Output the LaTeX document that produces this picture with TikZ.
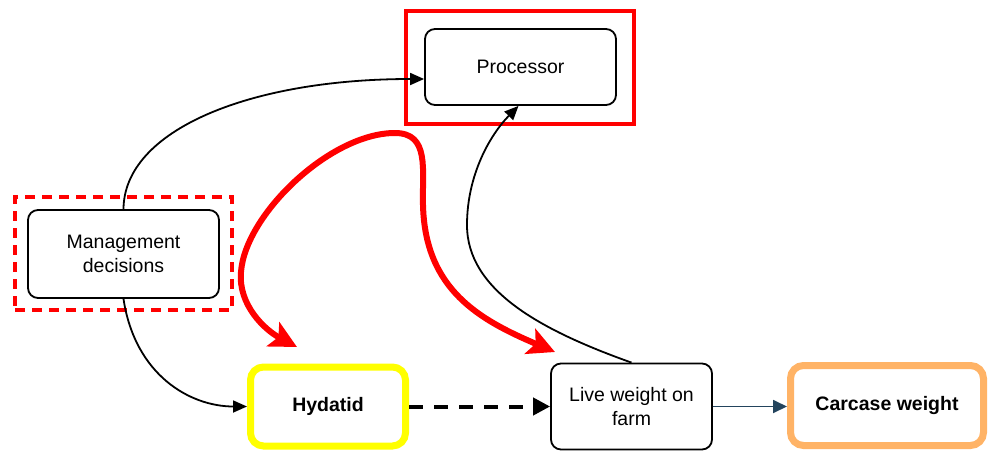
\documentclass[tikz,border=0pt]{standalone}
\usepackage{fontspec}
\setmainfont{Liberation Sans}
\usetikzlibrary{arrows.meta,calc}
\definecolor{hydy}{RGB}{255,255,0}
\definecolor{carco}{RGB}{255,179,102}
\definecolor{darkb}{RGB}{35,68,93}
\definecolor{redc}{RGB}{255,0,0}
\begin{document}
\begin{tikzpicture}[x=1pt,y=-1pt,
  box/.style={draw=black, line width=1.8pt, rounded corners=10pt, align=center,
    font=\fontsize{19.5}{24}\selectfont, inner sep=0pt},
  hl/.style={line width=7pt, rounded corners=13pt, align=center,
    font=\fontsize{19.5}{24}\selectfont\bfseries, inner sep=0pt},
  frame/.style={draw=redc, line width=3.5pt, inner sep=0pt},
  blk/.style={line width=1.8pt, -{Triangle[length=14pt,width=12pt]}},
  redarr/.style={draw=redc, line width=6pt, line cap=round,
    {Stealth[length=27pt,width=27pt,inset=6pt]}-{Stealth[length=27pt,width=27pt,inset=6pt]}}
]
\useasboundingbox (0,0) rectangle (991,453);

% frames
\node[frame, minimum width=228pt, minimum height=113pt] (pframe) at (520,67.5) {};
\node[frame, dash pattern=on 10pt off 7pt, minimum width=217pt, minimum height=113pt] (mframe) at (123.5,253.5) {};

% boxes
\node[box, minimum width=191pt, minimum height=76pt] (proc) at (520.5,67) {Processor};
\node[box, minimum width=191pt, minimum height=88pt] (mgmt) at (123.5,254) {Management\\decisions};
\node[hl, draw=hydy, minimum width=155pt, minimum height=79pt] (hyd) at (328,406.5) {Hydatid};
\node[box, minimum width=161pt, minimum height=86pt] (live) at (631.5,406.5) {Live weight on\\farm};
\node[hl, draw=carco, minimum width=193pt, minimum height=80pt] (carc) at (887,405.5) {Carcase weight};

% black connectors
\draw[blk] (mgmt.north) .. controls (124,130) and (250,79) .. ($(proc.west)+(0,12)$);
\draw[blk] (mgmt.south) .. controls (135,375) and (190,406.5) .. (hyd.west);
\draw[blk] (live.north) .. controls (540,330) and (467,290) .. (467,225)
   .. controls (467,175) and (490,135) .. ($(proc.south)+(-2,0)$);
\draw[line width=4pt, dash pattern=on 14pt off 11pt, -{Triangle[length=17pt,width=17pt]}] (hyd.east) -- (live.west);
\draw[draw=darkb, line width=1.8pt, -{Triangle[length=14pt,width=13pt]}] (live.east) -- (live.east -| carc.west);

% red double-headed curve
\coordinate (r1) at (297,347);
\coordinate (r2) at (555,352);
\draw[redarr] (r1) .. controls (265,330) and (238,305) .. (241,272)
   .. controls (245,215) and (330,133) .. (395,133)
   .. controls (430,133) and (422,170) .. (423,205)
   .. controls (425,290) and (480,320) .. (r2);
\end{tikzpicture}
\end{document}
